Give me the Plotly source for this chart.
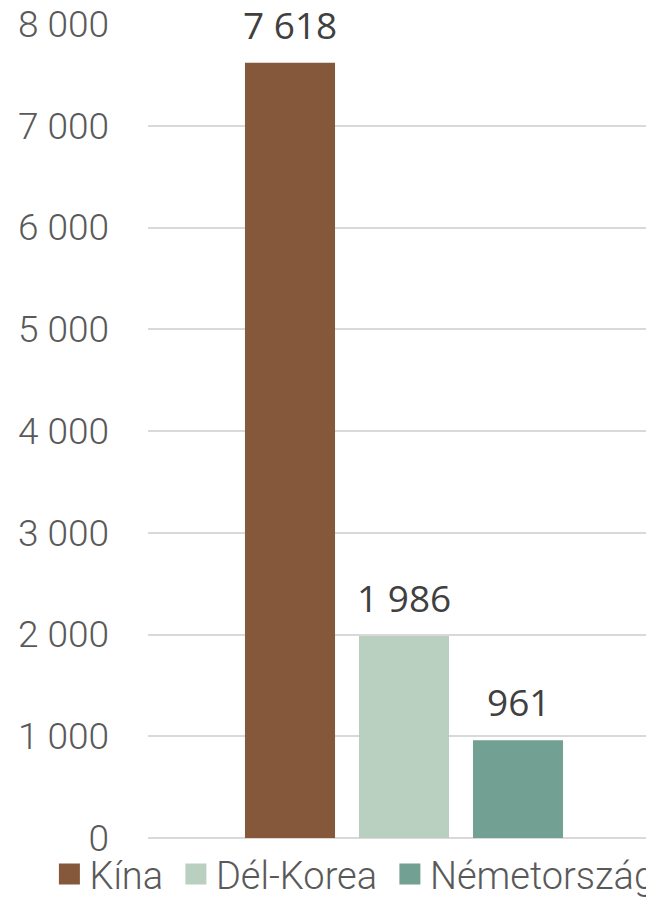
import plotly.graph_objects as go

categories = ["Kína", "Dél-Korea", "Németország"]
values = [7618, 1986, 961]
colors = ["#85583C", "#B9CFBF", "#72A092"]
y_ticks = [0, 1000, 2000, 3000, 4000, 5000, 6000, 7000, 8000]

def fmt(v):
    return f"{v:,}".replace(",", " ")

fig = go.Figure()
for cat, val, col in zip(categories, values, colors):
    fig.add_trace(go.Bar(
        x=[cat], y=[val], name=cat, width=0.79, showlegend=False,
        marker=dict(color=col, line=dict(width=0)),
        hoverinfo="skip",
    ))
# legend entries (square swatches)
for i, (cat, col) in enumerate(zip(categories, colors)):
    label = cat + ("\u2009" if i < len(categories) - 1 else "")
    fig.add_trace(go.Scatter(
        x=[None], y=[None], name=label, mode="markers",
        marker=dict(symbol="square", size=16, color=col, line=dict(width=5, color=col)),
        hoverinfo="skip", showlegend=True,
    ))

annotations = [
    dict(x=cat, y=val, xref="x", yref="y", text=fmt(val), showarrow=False,
         yanchor="bottom", yshift=11,
         font=dict(family="Open Sans", size=37, color="#404040"))
    for cat, val in zip(categories, values)
]

fig.update_layout(
    width=646, height=897,
    margin=dict(l=148, r=0, t=24, b=59, pad=0, autoexpand=False),
    paper_bgcolor="white", plot_bgcolor="white",
    barmode="overlay",
    separators=", ",
    showlegend=True,
    legend=dict(orientation="h", x=-0.198, xanchor="left", y=-0.006, yanchor="top",
                font=dict(family="Roboto", size=38, color="#595959", weight=300),
                itemclick=False, tracegroupgap=0, bgcolor="rgba(0,0,0,0)"),
    annotations=annotations,
    xaxis=dict(showticklabels=False, showgrid=False, zeroline=False, showline=False,
               range=[-1.2456, 3.1228], fixedrange=True, automargin=False),
    yaxis=dict(range=[0, 8000], tickvals=y_ticks, tickformat=",d",
               showgrid=True, gridcolor="#D9D9D9", gridwidth=2,
               zeroline=True, zerolinecolor="#D9D9D9", zerolinewidth=2,
               showline=False, ticks="", ticklabelstandoff=38, automargin=False,
               tickfont=dict(family="Roboto", size=37, color="#595959", weight=300),
               fixedrange=True),
)

fig.write_html("out.html", config={"displayModeBar": False},
               post_script="document.body.style.margin='0';document.body.style.overflow='hidden';")
